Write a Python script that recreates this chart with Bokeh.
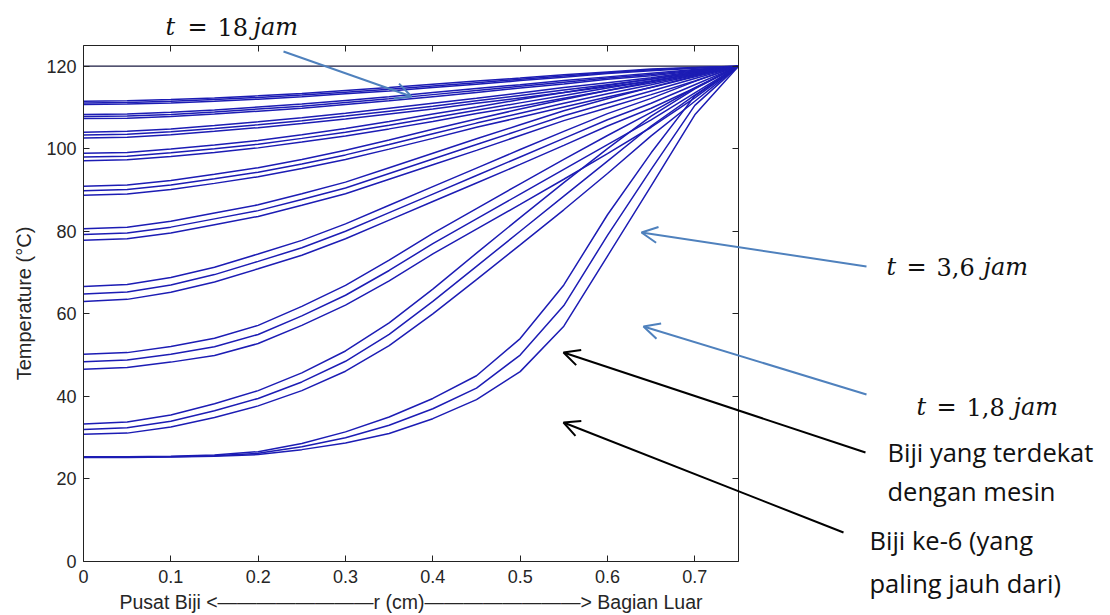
from bokeh.plotting import figure
from bokeh.models import (LinearAxis, FixedTicker, NumeralTickFormatter, Label,
                          Arrow, OpenHead, Range1d)
from bokeh.embed import file_html
from bokeh.resources import INLINE

# ---------------- data ----------------
r_cm = [0.00, 0.05, 0.10, 0.15, 0.20, 0.25, 0.30, 0.35, 0.40, 0.45, 0.50, 0.55, 0.60, 0.65, 0.70, 0.75]

# surface temperature line
wall_r = [0.0, 0.75]
wall_T = [120, 120]

# three seeds per time step: nearest to machine (near), middle, 6th seed (far)
T_near_18_0h = [111.5, 111.6, 111.9, 112.3, 112.8, 113.4, 114.1, 114.8, 115.6, 116.4, 117.1, 117.9, 118.6, 119.3, 119.7, 120]
T_mid_18_0h = [111.1, 111.2, 111.5, 111.9, 112.4, 113.0, 113.7, 114.4, 115.2, 116.0, 116.8, 117.6, 118.4, 119.1, 119.6, 120]
T_far_18_0h = [110.7, 110.8, 111.1, 111.5, 112.0, 112.6, 113.3, 114.0, 114.8, 115.6, 116.5, 117.3, 118.2, 118.9, 119.5, 120]

T_near_16_2h = [108.3, 108.4, 108.8, 109.4, 110.1, 110.8, 111.7, 112.6, 113.6, 114.6, 115.5, 116.5, 117.4, 118.3, 119.2, 120]
T_mid_16_2h = [107.8, 107.9, 108.3, 108.9, 109.6, 110.3, 111.2, 112.1, 113.1, 114.1, 115.1, 116.1, 117.1, 118.0, 119.0, 120]
T_far_16_2h = [107.3, 107.4, 107.8, 108.4, 109.1, 109.8, 110.7, 111.6, 112.6, 113.6, 114.7, 115.7, 116.8, 117.7, 118.8, 120]

T_near_14_4h = [104.0, 104.2, 104.8, 105.6, 106.5, 107.5, 108.6, 109.8, 111.0, 112.2, 113.5, 114.8, 116.0, 117.2, 118.7, 120]
T_mid_14_4h = [103.3, 103.5, 104.1, 104.9, 105.8, 106.8, 107.9, 109.1, 110.3, 111.6, 112.9, 114.2, 115.5, 116.8, 118.4, 120]
T_far_14_4h = [102.6, 102.8, 103.4, 104.2, 105.1, 106.1, 107.2, 108.4, 109.6, 111.0, 112.3, 113.6, 115.0, 116.4, 118.1, 120]

T_near_12_6h = [98.9, 99.1, 99.9, 100.9, 102.0, 103.4, 104.9, 106.6, 108.4, 110.1, 111.9, 113.6, 115.3, 116.9, 118.5, 120]
T_mid_12_6h = [98.0, 98.2, 99.0, 100.0, 101.1, 102.5, 104.0, 105.7, 107.5, 109.3, 111.1, 112.9, 114.7, 116.4, 118.2, 120]
T_far_12_6h = [97.1, 97.3, 98.1, 99.1, 100.2, 101.6, 103.1, 104.8, 106.6, 108.5, 110.3, 112.2, 114.1, 115.9, 117.9, 120]

T_near_10_8h = [90.9, 91.2, 92.3, 93.8, 95.4, 97.4, 99.6, 102.1, 104.7, 107.2, 109.6, 111.9, 114.1, 116.2, 118.2, 120]
T_mid_10_8h = [89.8, 90.1, 91.2, 92.7, 94.3, 96.3, 98.5, 101.0, 103.6, 106.2, 108.6, 111.0, 113.3, 115.5, 117.8, 120]
T_far_10_8h = [88.7, 89.0, 90.1, 91.6, 93.2, 95.2, 97.4, 99.9, 102.5, 105.2, 107.6, 110.1, 112.5, 114.8, 117.4, 120]

T_near_9_0h = [80.6, 81.0, 82.4, 84.4, 86.4, 89.1, 91.9, 95.4, 98.9, 102.4, 105.8, 109.2, 112.1, 114.9, 117.6, 120]
T_mid_9_0h = [79.2, 79.6, 81.0, 83.0, 85.0, 87.7, 90.5, 94.0, 97.5, 101.0, 104.5, 108.0, 111.0, 114.0, 117.0, 120]
T_far_9_0h = [77.8, 78.2, 79.6, 81.6, 83.6, 86.3, 89.1, 92.6, 96.1, 99.6, 103.2, 106.8, 109.9, 113.1, 116.4, 120]

T_near_7_2h = [66.6, 67.1, 68.8, 71.3, 74.5, 77.8, 81.8, 86.3, 90.8, 95.3, 99.8, 104.2, 108.5, 112.2, 116.3, 120]
T_mid_7_2h = [64.8, 65.3, 67.0, 69.5, 72.7, 76.0, 80.0, 84.5, 89.0, 93.5, 98.0, 102.5, 107.0, 111.0, 115.5, 120]
T_far_7_2h = [63.0, 63.5, 65.2, 67.7, 70.9, 74.2, 78.2, 82.7, 87.2, 91.7, 96.2, 100.8, 105.5, 109.8, 114.7, 120]

T_near_5_4h = [50.2, 50.6, 52.1, 54.1, 57.2, 61.8, 66.9, 73.0, 79.5, 85.5, 91.5, 97.4, 103.2, 108.8, 114.7, 120]
T_mid_5_4h = [48.4, 48.8, 50.2, 52.0, 55.0, 59.5, 64.5, 70.5, 77.0, 83.0, 89.0, 95.0, 101.0, 107.0, 113.5, 120]
T_far_5_4h = [46.6, 47.0, 48.3, 49.9, 52.8, 57.2, 62.1, 68.0, 74.5, 80.5, 86.5, 92.6, 98.8, 105.2, 112.3, 120]

T_near_3_6h = [33.3, 33.8, 35.5, 38.2, 41.4, 45.7, 51.0, 57.8, 66.0, 74.7, 83.3, 91.8, 100.0, 107.9, 114.5, 120]
T_mid_3_6h = [32.0, 32.4, 34.0, 36.5, 39.5, 43.5, 48.5, 55.0, 63.0, 71.5, 80.0, 88.5, 97.0, 105.5, 113.0, 120]
T_far_3_6h = [30.8, 31.1, 32.6, 34.9, 37.7, 41.4, 46.1, 52.3, 60.0, 68.3, 76.7, 85.2, 94.0, 103.1, 111.5, 120]

T_near_1_8h = [25.4, 25.4, 25.5, 25.8, 26.6, 28.6, 31.4, 35.0, 39.5, 45.0, 54.0, 67.0, 84.0, 99.0, 112.8, 120]
T_mid_1_8h = [25.3, 25.3, 25.4, 25.6, 26.2, 27.8, 30.0, 33.0, 37.0, 42.0, 50.0, 62.0, 79.0, 95.0, 110.5, 120]
T_far_1_8h = [25.2, 25.2, 25.3, 25.5, 25.9, 27.1, 28.7, 31.0, 34.6, 39.2, 46.0, 57.0, 74.0, 91.0, 108.2, 120]

x_ticks = [0, 0.1, 0.2, 0.3, 0.4, 0.5, 0.6, 0.7]
y_ticks = [0, 20, 40, 60, 80, 100, 120]

curves = [
    T_near_18_0h, T_mid_18_0h, T_far_18_0h,
    T_near_16_2h, T_mid_16_2h, T_far_16_2h,
    T_near_14_4h, T_mid_14_4h, T_far_14_4h,
    T_near_12_6h, T_mid_12_6h, T_far_12_6h,
    T_near_10_8h, T_mid_10_8h, T_far_10_8h,
    T_near_9_0h, T_mid_9_0h, T_far_9_0h,
    T_near_7_2h, T_mid_7_2h, T_far_7_2h,
    T_near_5_4h, T_mid_5_4h, T_far_5_4h,
    T_near_3_6h, T_mid_3_6h, T_far_3_6h,
    T_near_1_8h, T_mid_1_8h, T_far_1_8h,
]

# ---------------- layout ----------------
W, H = 1110, 615
BOX_L, BOX_R, BOX_T, BOX_B = 83, 738, 45, 561      # pixel position of the axes box
XMIN, XMAX, YMIN, YMAX = 0, 0.75, 0, 125
sx = (BOX_R - BOX_L) / (XMAX - XMIN)
sy = (BOX_B - BOX_T) / (YMAX - YMIN)

# the plotting frame fills the whole canvas so annotations outside the axes box stay visible
x_range = Range1d(XMIN - BOX_L / sx, XMIN + (W - BOX_L) / sx)
y_range = Range1d(YMIN - (H - BOX_B) / sy, YMIN + BOX_B / sy)


def at(xp, yp):
    """canvas pixel -> data coordinates (annotation placement only)"""
    return XMIN + (xp - BOX_L) / sx, YMIN + (BOX_B - yp) / sy


p = figure(width=W, height=H, x_range=x_range, y_range=y_range,
           output_backend="svg", toolbar_location=None,
           x_axis_location=None, y_axis_location=None,
           min_border=0, min_border_left=0, min_border_right=0,
           min_border_top=0, min_border_bottom=0)
p.background_fill_color = "white"
p.border_fill_color = "white"
p.outline_line_color = None
p.xgrid.visible = False
p.ygrid.visible = False

AX_COLOR = "#222222"
TICK_FONT = "Liberation Sans"


def style_axis(ax, show_labels):
    ax.axis_line_color = AX_COLOR
    ax.major_tick_line_color = AX_COLOR
    ax.major_tick_in = 6
    ax.major_tick_out = 0
    ax.minor_tick_line_color = None
    ax.major_label_text_font = TICK_FONT
    if show_labels:
        ax.major_label_text_font_size = "18px"
        ax.major_label_text_color = "#262626"
    else:
        ax.major_label_text_font_size = "1px"
        ax.major_label_text_color = None
        ax.major_label_standoff = 0


xb = LinearAxis(ticker=FixedTicker(ticks=x_ticks), formatter=NumeralTickFormatter(format="0.[0]"),
                fixed_location=YMIN, bounds=(XMIN, XMAX),
                axis_label="Pusat Biji <" + "\u2014" * 8 + "r (cm)" + "\u2014" * 8 + "> Bagian Luar")
style_axis(xb, True)
xb.major_label_standoff = 8
xb.axis_label_text_font = TICK_FONT
xb.axis_label_text_font_size = "19.5px"
xb.axis_label_text_font_style = "normal"
xb.axis_label_text_color = "#262626"
xb.axis_label_standoff = 5
p.add_layout(xb, "below")

yl = LinearAxis(ticker=FixedTicker(ticks=y_ticks), fixed_location=XMIN, bounds=(YMIN, YMAX),
                axis_label="Temperature (°C)")
style_axis(yl, True)
yl.major_label_standoff = 7
yl.axis_label_text_font = TICK_FONT
yl.axis_label_text_font_size = "20px"
yl.axis_label_text_font_style = "normal"
yl.axis_label_text_color = "#262626"
yl.axis_label_standoff = 8
p.add_layout(yl, "left")

xt = LinearAxis(ticker=FixedTicker(ticks=x_ticks), fixed_location=YMAX, bounds=(XMIN, XMAX))
style_axis(xt, False)
p.add_layout(xt, "above")

yr = LinearAxis(ticker=FixedTicker(ticks=y_ticks), fixed_location=XMAX, bounds=(YMIN, YMAX))
style_axis(yr, False)
p.add_layout(yr, "right")

# curves
p.line(wall_r, wall_T, line_color="#1a1a40", line_width=1.3)
for T in curves:
    p.line(r_cm, T, line_color="#1c1cb4", line_width=1.5)

# ---------------- annotations ----------------
MATH_FONT = "DejaVu Serif"


def math_text(parts, yp):
    for txt, xp, italic in parts:
        x, y = at(xp, yp)
        p.add_layout(Label(x=x, y=y, text=txt, text_font=MATH_FONT, text_font_size="24px",
                           text_font_style="italic" if italic else "normal",
                           text_color="#111111", text_align="left", text_baseline="middle"))


math_text([("t", 165, True), ("=", 187, False), ("18", 217, False), ("jam", 253, True)], 26)
math_text([("t", 886, True), ("=", 906, False), ("3,6", 936, False), ("jam", 983, True)], 266)
math_text([("t", 916, True), ("=", 936, False), ("1,8", 966, False), ("jam", 1013, True)], 406)

BODY_FONT = "Open Sans"
for txt, xp, yp in [("Biji yang terdekat", 887, 451), ("dengan mesin", 887, 490),
                    ("Biji ke-6 (yang", 869, 539), ("paling jauh dari)", 869, 582)]:
    x, y = at(xp, yp)
    p.add_layout(Label(x=x, y=y, text=txt, text_font=BODY_FONT, text_font_size="25.5px",
                       text_color="#111111", text_align="left", text_baseline="middle"))

BLUE = "#4f81bd"
for (xs, ys, xe, ye, col) in [(283, 51, 411, 96, BLUE), (866, 266, 641, 232, BLUE),
                              (866, 394, 643, 326, BLUE), (865, 452, 563, 352, "#000000"),
                              (843, 532, 563, 422, "#000000")]:
    x0, y0 = at(xs, ys)
    x1, y1 = at(xe, ye)
    p.add_layout(Arrow(x_start=x0, y_start=y0, x_end=x1, y_end=y1,
                       line_color=col, line_width=2,
                       end=OpenHead(size=16, line_color=col, line_width=2)))

open("out.html", "w").write(file_html(p, INLINE))
